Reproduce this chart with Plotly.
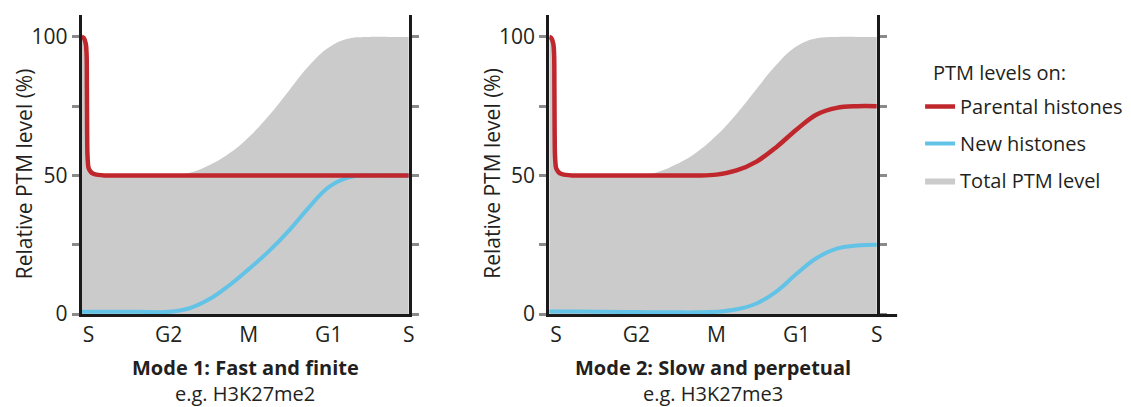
import plotly.graph_objects as go

# ---- data ----
phase_vals = [0, 1, 2, 3, 4]
phase_labels = ["S", "G2", "M", "G1", "S"]
y_tick_vals = [0, 25, 50, 75, 100]
y_tick_text = ["0", "", "50", "", "100"]

cycle_x = [-0.085, -0.06, -0.035, -0.025, -0.021, -0.018, -0.014, -0.008, 0.0, 0.03, 0.06, 0.12, 0.2,
           0.6, 1.0, 1.25, 1.5, 1.75, 2.0, 2.25, 2.5, 2.75, 3.0, 3.25, 3.5, 3.75, 4.0]

# Mode 1: Fast and finite
parental_1 = [100, 99.6, 97.5, 94, 82, 66, 57.5, 54.5, 52.7, 51.2, 50.6, 50.2, 50,
              50, 50, 50, 50, 50, 50, 50, 50, 50, 50, 50, 50, 50, 50]
new_1 = [0.8, 0.8, 0.8, 0.8, 0.8, 0.8, 0.8, 0.8, 0.8, 0.8, 0.8, 0.8, 0.8,
         0.8, 0.8, 2.0, 5.2, 10.2, 16.2, 22.6, 30.0, 38.4, 45.8, 49.3, 50, 50, 50]
total_1 = [100, 99.6, 97.5, 94, 82, 66, 57.5, 54.5, 52.7, 51.2, 50.6, 50.2, 50,
           50, 50, 50.9, 53.6, 57.8, 63.8, 71.5, 80.5, 89.5, 96.2, 99.4, 100, 100, 100]

# Mode 2: Slow and perpetual
parental_2 = [100, 99.6, 97.5, 94, 82, 66, 57.5, 54.5, 52.7, 51.2, 50.6, 50.2, 50,
              50, 50, 50, 50, 50, 50.3, 51.8, 55, 60.3, 66.6, 72.0, 74.4, 75, 75]
new_2 = [0.9, 0.9, 0.9, 0.9, 0.9, 0.9, 0.9, 0.9, 0.9, 0.9, 0.9, 0.9, 0.9,
         0.8, 0.7, 0.65, 0.6, 0.6, 0.8, 1.7, 3.8, 8.2, 14.5, 20.2, 23.6, 24.7, 25]
total_2 = [100, 99.6, 97.5, 94, 82, 66, 57.5, 54.5, 52.7, 51.2, 50.6, 50.2, 50,
           50, 50, 51.1, 54.0, 58.3, 64.4, 72.2, 81.2, 90.0, 96.6, 99.5, 100, 100, 100]

panel_titles = ["<b>Mode 1: Fast and finite</b>", "<b>Mode 2: Slow and perpetual</b>"]
panel_examples = ["e.g. H3K27me2", "e.g. H3K27me3"]
y_title = "Relative PTM level (%)"
legend_title = "PTM levels on:"
names = ["Parental histones", "New histones", "Total PTM level"]

RED = "#c0272d"
BLUE = "#62c3e6"
GREY = "#cbcbcb"
TXT = "#231f20"
FONT = "Open Sans"
SMOOTH = 1.2

fig = go.Figure()

panels = [("x", "y", parental_1, new_1, total_1, True),
          ("x2", "y2", parental_2, new_2, total_2, False)]
for xa, ya, par, new, tot, show in panels:
    fig.add_trace(go.Scatter(x=cycle_x, y=tot, xaxis=xa, yaxis=ya, mode="lines",
                             line=dict(width=0, color=GREY, shape="spline", smoothing=SMOOTH),
                             fill="tozeroy", fillcolor=GREY, name=names[2],
                             legendgroup="g3", legendrank=3, showlegend=show, hoverinfo="skip"))
    fig.add_trace(go.Scatter(x=cycle_x, y=new, xaxis=xa, yaxis=ya, mode="lines",
                             line=dict(width=4, color=BLUE, shape="spline", smoothing=SMOOTH),
                             name=names[1], legendgroup="g2", legendrank=2, showlegend=show))
    fig.add_trace(go.Scatter(x=cycle_x, y=par, xaxis=xa, yaxis=ya, mode="lines",
                             line=dict(width=4.5, color=RED, shape="spline", smoothing=1.0),
                             name=names[0], legendgroup="g1", legendrank=1, showlegend=show))

W, H = 1131, 407
doms = [[82.2 / W, 411 / W], [552.2 / W, 881.5 / W]]

xaxis_common = dict(range=[-0.085, 4], showline=True, linecolor="#1a1a1a", linewidth=3,
                    tickmode="array", tickvals=phase_vals, ticktext=phase_labels,
                    ticks="", showgrid=False, zeroline=False,
                    tickfont=dict(family=FONT, size=21, color=TXT), fixedrange=True)
yaxis_common = dict(range=[0, 107.9], showline=True, linecolor="#1a1a1a", linewidth=3,
                    mirror="ticks", tickmode="array", tickvals=y_tick_vals, ticktext=y_tick_text,
                    ticks="outside", ticklen=7, tickwidth=3, tickcolor="#8a8a8a",
                    showgrid=False, zeroline=False,
                    tickfont=dict(family=FONT, size=21, color=TXT), fixedrange=True)

fig.update_layout(
    width=W, height=H,
    margin=dict(l=0, r=0, t=15, b=93),
    paper_bgcolor="white", plot_bgcolor="white",
    font=dict(family=FONT, size=20, color=TXT),
    xaxis=dict(domain=doms[0], anchor="y", **xaxis_common),
    yaxis=dict(domain=[0, 1], anchor="x", **yaxis_common),
    xaxis2=dict(domain=doms[1], anchor="y2", **xaxis_common),
    yaxis2=dict(domain=[0, 1], anchor="x2", **yaxis_common),
    showlegend=True,
    legend=dict(x=925 / W, y=(314 - 87) / 299, xanchor="left", yanchor="top",
                traceorder="grouped", tracegroupgap=8, bgcolor="rgba(0,0,0,0)",
                font=dict(family=FONT, size=20, color=TXT), itemwidth=30),
)

# y-axis titles and panel captions
for i, (xd, yd) in enumerate([("x domain", "y domain"), ("x2 domain", "y2 domain")]):
    fig.add_annotation(text=y_title, xref=xd, yref=yd, x=0, y=(314 - 173.5) / 299,
                       xshift=-58, textangle=-90, showarrow=False,
                       xanchor="center", yanchor="middle",
                       font=dict(family=FONT, size=21, color=TXT))
    fig.add_annotation(text=panel_titles[i], xref=xd, yref=yd, x=0.5, y=(314 - 367) / 299,
                       showarrow=False, xanchor="center", yanchor="middle",
                       font=dict(family=FONT, size=20, color=TXT))
    fig.add_annotation(text=panel_examples[i], xref=xd, yref=yd, x=0.5, y=(314 - 393) / 299,
                       showarrow=False, xanchor="center", yanchor="middle",
                       font=dict(family=FONT, size=20, color=TXT))

# legend heading
fig.add_annotation(text=legend_title, xref="paper", yref="paper", x=936 / W, y=(314 - 72) / 299,
                   showarrow=False, xanchor="left", yanchor="middle",
                   font=dict(family=FONT, size=20, color=TXT))

# extension of the second x-axis line beyond the right border
fig.add_shape(type="line", xref="x2 domain", yref="y2 domain", x0=1, x1=1.062,
              ysizemode="pixel", yanchor=0, y0=-1.5, y1=-1.5,
              line=dict(color="#1a1a1a", width=3))

fig.write_html("out.html")
